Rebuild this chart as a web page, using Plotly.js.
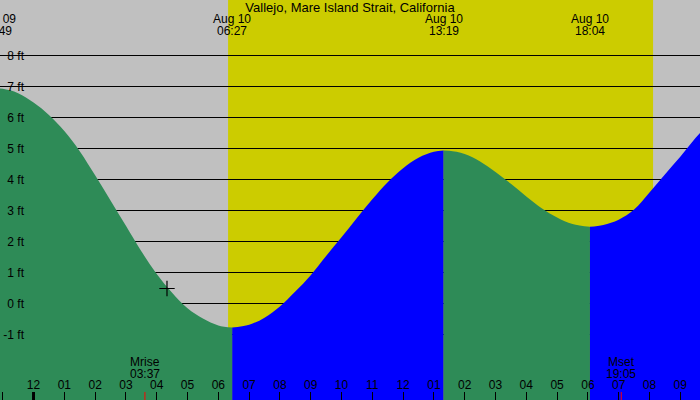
<!DOCTYPE html>
<html>
<head>
<meta charset="utf-8">
<script src="https://cdn.plot.ly/plotly-3.0.1.min.js"></script>
<style>
	html, body { margin: 0; padding: 0; background: #c0c0c0; }
	#plot { width: 700px; height: 400px; }
</style>
</head>
<body>
<div id="plot"></div>
<script>
const chartTitle = "Vallejo, Mare Island Strait, California";

// tide curve, feet
const tideTimes = [
	"2024-08-09 22:49", "2024-08-09 23:00", "2024-08-09 23:30",
	"2024-08-10 00:00", "2024-08-10 00:30", "2024-08-10 01:00", "2024-08-10 01:30",
	"2024-08-10 02:00", "2024-08-10 02:30", "2024-08-10 03:00", "2024-08-10 03:30",
	"2024-08-10 04:00", "2024-08-10 04:30", "2024-08-10 05:00", "2024-08-10 05:30",
	"2024-08-10 06:00", "2024-08-10 06:27", "2024-08-10 07:00", "2024-08-10 07:30",
	"2024-08-10 08:00", "2024-08-10 08:30", "2024-08-10 09:00", "2024-08-10 09:30",
	"2024-08-10 10:00", "2024-08-10 10:30", "2024-08-10 11:00", "2024-08-10 11:30",
	"2024-08-10 12:00", "2024-08-10 12:30", "2024-08-10 13:00", "2024-08-10 13:19",
	"2024-08-10 13:30", "2024-08-10 14:00", "2024-08-10 14:30", "2024-08-10 15:00",
	"2024-08-10 15:30", "2024-08-10 16:00", "2024-08-10 16:30", "2024-08-10 17:00",
	"2024-08-10 17:30", "2024-08-10 18:04", "2024-08-10 18:30", "2024-08-10 19:00",
	"2024-08-10 19:30", "2024-08-10 20:00", "2024-08-10 20:30", "2024-08-10 21:00",
	"2024-08-10 21:30", "2024-08-10 22:00"
];
const tideHeights = [
	6.95, 6.94, 6.80,
	6.50, 6.10, 5.58, 4.93,
	4.15, 3.34, 2.52, 1.70,
	0.97, 0.36, -0.14, -0.47,
	-0.69, -0.76, -0.67, -0.44,
	-0.08, 0.40, 0.93, 1.55,
	2.15, 2.77, 3.38, 3.93,
	4.38, 4.72, 4.91, 4.95,
	4.94, 4.84, 4.60, 4.26,
	3.88, 3.47, 3.09, 2.79,
	2.58, 2.49, 2.55, 2.72,
	3.05, 3.60, 4.18, 4.75,
	5.36, 5.90
];

// high / low tide events
const eventTimes = ["2024-08-09 22:49", "2024-08-10 06:27", "2024-08-10 13:19", "2024-08-10 18:04"];

const sunrise = "2024-08-10 06:19";
const sunset = "2024-08-10 20:07";
const moonrise = "2024-08-10 03:37";
const moonset = "2024-08-10 19:05";
const midnight = "2024-08-10 00:00";

const nowTime = "2024-08-10 04:20";
const nowHeight = 0.5;

const levels = [-1, 0, 1, 2, 3, 4, 5, 6, 7, 8];
const levelLabels = levels.map((v) => `${v} ft`);
const xRange = ["2024-08-09 22:54:40", "2024-08-10 21:38:25"];
const yRange = [-3.097, 9.806];

const FONT = "Liberation Sans, Arial, sans-serif";
const GREEN = "#2e8b57";
const BLUE = "#0000ff";

function ms(t) {
	return Date.parse(t.replace(" ", "T"));
}

function paperX(t) {
	return (ms(t) - ms(xRange[0])) / (ms(xRange[1]) - ms(xRange[0]));
}

function monthDay(t) {
	const months = ["Jan", "Feb", "Mar", "Apr", "May", "Jun", "Jul", "Aug", "Sep", "Oct", "Nov", "Dec"];
	const d = new Date(ms(t));
	return `${months[d.getMonth()]} ${t.slice(8, 10)}`;
}

// split curve at the tide events: rising is blue, falling is green
const cuts = eventTimes.map((t) => tideTimes.indexOf(t)).concat([tideTimes.length - 1]);
const traces = [];
for (let s = 0; s < cuts.length - 1; s++) {
	const x = tideTimes.slice(cuts[s], cuts[s + 1] + 1);
	const y = tideHeights.slice(cuts[s], cuts[s + 1] + 1);
	const rising = y[y.length - 1] > y[0];
	const floor = yRange[0] - 1;
	traces.push({
		x: [x[0], x[x.length - 1]],
		y: [floor, floor],
		mode: "lines",
		line: { width: 0 },
		hoverinfo: "skip",
	});
	traces.push({
		x,
		y,
		mode: "lines",
		line: { width: 0, color: rising ? BLUE : GREEN, shape: "spline", smoothing: 1 },
		fill: "tonexty",
		fillcolor: rising ? BLUE : GREEN,
		hoverinfo: "skip",
	});
}

traces.push({
	x: [nowTime],
	y: [nowHeight],
	mode: "markers",
	marker: { symbol: "cross-thin", size: 11, line: { color: "#000", width: 1.2 } },
	hoverinfo: "skip",
});

const labelFont = { family: FONT, size: 12, color: "#000" };
const annotations = [];

// two separate lines so the spacing stays tight
eventTimes.forEach((t) => {
	[monthDay(t), t.slice(11)].forEach((line, i) => {
		annotations.push({
			xref: "paper",
			yref: "paper",
			x: paperX(t),
			y: 1,
			yanchor: "middle",
			yshift: -19 - 12 * i,
			xanchor: "center",
			showarrow: false,
			text: line,
			font: labelFont,
		});
	});
});

[["Mrise", moonrise], ["Mset", moonset]].forEach(([name, t]) => {
	[name, t.slice(11)].forEach((line, i) => {
		annotations.push({
			x: t,
			xref: "x",
			yref: "paper",
			y: 0,
			yanchor: "middle",
			yshift: 38 - 12 * i,
			showarrow: false,
			text: line,
			font: labelFont,
		});
	});
});

const shapes = [
	{
		type: "rect", xref: "x", yref: "paper",
		x0: sunrise, x1: sunset, y0: 0, y1: 1,
		fillcolor: "#cccc00", line: { width: 0 }, layer: "below",
	},
	{
		// keeps the grid lines off the tick labels
		type: "rect", xref: "paper", yref: "paper",
		x0: 0, x1: 26 / 700, y0: 0, y1: 1,
		fillcolor: "#c0c0c0", line: { width: 0 }, layer: "between",
	},
	{
		type: "line", xref: "x", yref: "paper",
		x0: midnight, x1: midnight, y0: 0, y1: 0.02,
		line: { color: "#000", width: 3 }, layer: "above",
	},
	{
		type: "line", xref: "x", yref: "paper",
		x0: moonrise, x1: moonrise, y0: 0, y1: 0.02,
		line: { color: "#ff0000", width: 1 }, layer: "above",
	},
	{
		type: "line", xref: "x", yref: "paper",
		x0: moonset, x1: moonset, y0: 0, y1: 0.02,
		line: { color: "#ff0000", width: 1 }, layer: "above",
	},
];

const layout = {
	width: 700,
	height: 400,
	margin: { l: 0, r: 0, t: 0, b: 0 },
	paper_bgcolor: "#c0c0c0",
	plot_bgcolor: "#c0c0c0",
	showlegend: false,
	title: {
		text: chartTitle,
		x: 0.5,
		xanchor: "center",
		xref: "paper",
		yref: "container",
		y: 0.993,
		yanchor: "top",
		pad: { t: 0 },
		font: { family: FONT, size: 13, color: "#000" },
	},
	xaxis: {
		type: "date",
		range: xRange,
		tick0: midnight,
		dtick: 3600000,
		tickformat: "%I",
		ticks: "inside",
		ticklen: 8,
		tickcolor: "#000",
		ticklabelposition: "inside",
		showgrid: false,
		zeroline: false,
		showline: false,
		tickfont: labelFont,
	},
	yaxis: {
		range: yRange,
		tickvals: levels,
		ticktext: levelLabels,
		anchor: "free",
		position: 24 / 700,
		side: "left",
		ticks: "",
		showline: false,
		zeroline: false,
		showgrid: true,
		gridcolor: "#000",
		gridwidth: 1,
		tickfont: { family: FONT, size: 12, color: "#000" },
	},
	annotations,
	shapes,
};

Plotly.newPlot("plot", traces, layout, { staticPlot: true });
</script>
</body>
</html>
